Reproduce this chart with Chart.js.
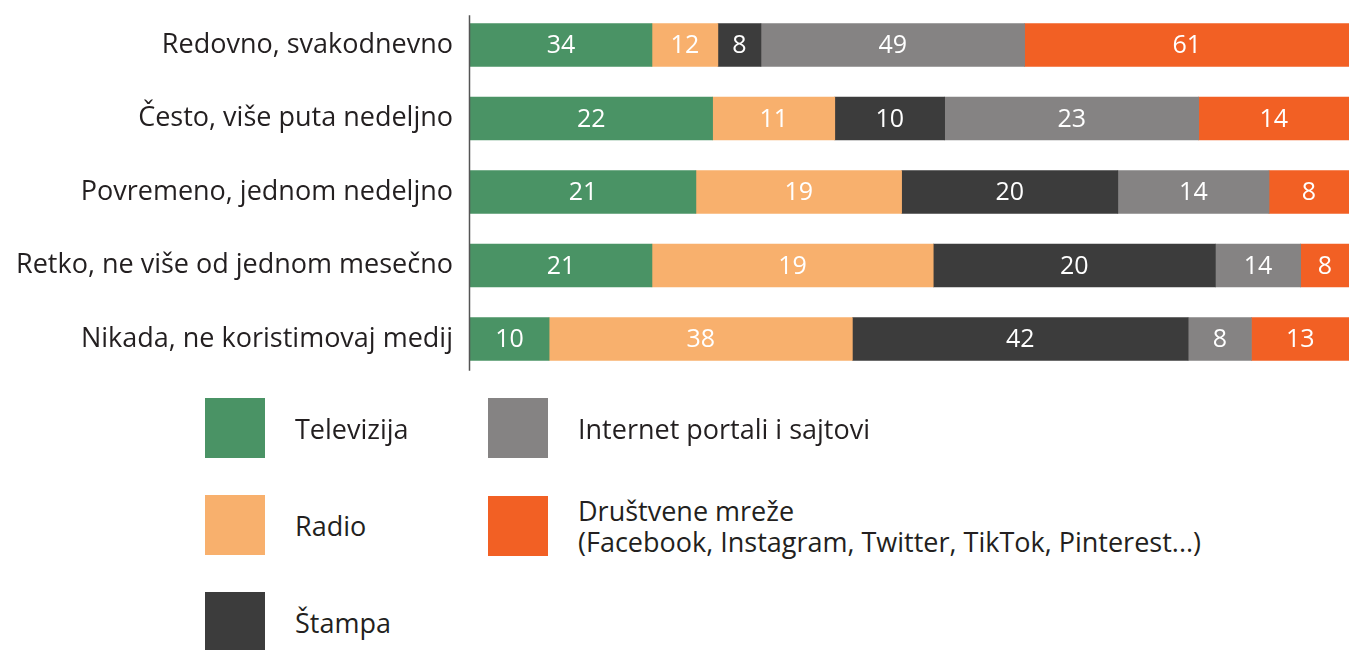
<!DOCTYPE html>
<html>
<head>
  <meta charset="UTF-8" />
  <title>Korišćenje medija</title>
  <script src="https://cdn.jsdelivr.net/npm/chart.js"></script>
  <style>
    body { margin: 0; background: #fff; font-family: "Open Sans", sans-serif; color: #231f20; overflow: hidden; }
    #wrap { position: relative; width: 1349px; height: 650px; overflow: hidden; }
    #chartBox { position: absolute; left: 0; top: -25px; width: 1349px; height: 434px; }
    .lg { position: absolute; display: flex; align-items: center; font-size: 27px; line-height: 31px; }
    .sw { width: 60px; height: 60px; margin-right: 30px; flex: none; }
  </style>
</head>
<body>
<div id="wrap">
  <div id="chartBox"><canvas id="chart"></canvas></div>
  <div id="legend"></div>
</div>
<script>
  const categories = [
    'Redovno, svakodnevno',
    'Često, više puta nedeljno',
    'Povremeno, jednom nedeljno',
    'Retko, ne više od jednom mesečno',
    'Nikada, ne koristimovaj medij'
  ];
  const seriesNames = ['Televizija', 'Radio', 'Štampa', 'Internet portali i sajtovi',
    'Društvene mreže\n(Facebook, Instagram, Twitter, TikTok, Pinterest...)'];
  const colors = ['#4a9365', '#f8b06d', '#3c3c3c', '#858383', '#f26024'];

  // bar shares in % of each row
  const televizija = [20.7, 27.6, 25.7, 20.7, 9.0];
  const radio      = [7.5, 13.9, 23.4, 32.0, 34.5];
  const stampa     = [4.9, 12.5, 24.6, 32.1, 38.2];
  const internet   = [30.0, 28.9, 17.2, 9.7, 7.2];
  const mreze      = [36.9, 17.1, 9.1, 5.5, 11.1];

  // numbers printed inside the bars
  const televizijaLbl = [34, 22, 21, 21, 10];
  const radioLbl      = [12, 11, 19, 19, 38];
  const stampaLbl     = [8, 10, 20, 20, 42];
  const internetLbl   = [49, 23, 14, 14, 8];
  const mrezeLbl      = [61, 14, 8, 8, 13];

  const values = [televizija, radio, stampa, internet, mreze];
  const labels = [televizijaLbl, radioLbl, stampaLbl, internetLbl, mrezeLbl];

  const barLabels = {
    id: 'barLabels',
    afterDatasetsDraw(chart) {
      const c = chart.ctx;
      c.save();
      c.fillStyle = '#fff';
      c.font = '25px "Open Sans", sans-serif';
      c.textAlign = 'center';
      c.textBaseline = 'middle';
      chart.data.datasets.forEach((ds, i) => {
        chart.getDatasetMeta(i).data.forEach((bar, j) => {
          const x = (bar.x + bar.base) / 2;
          c.fillText(String(labels[i][j]), x, bar.y + 1);
        });
      });
      // left axis line, a bit shorter than the category band
      const a = chart.chartArea;
      c.strokeStyle = '#555';
      c.lineWidth = 1.5;
      c.beginPath();
      c.moveTo(a.left - 0.5, a.top + 7);
      c.lineTo(a.left - 0.5, a.bottom - 5);
      c.stroke();
      c.restore();
    }
  };

  new Chart(document.getElementById('chart'), {
    type: 'bar',
    data: {
      labels: categories,
      datasets: values.map((v, i) => ({
        label: seriesNames[i],
        data: v,
        backgroundColor: colors[i],
        borderWidth: 0,
        barThickness: 43
      }))
    },
    options: {
      indexAxis: 'y',
      responsive: true,
      maintainAspectRatio: false,
      animation: false,
      layout: { padding: 0 },
      plugins: { legend: { display: false }, tooltip: { enabled: false } },
      scales: {
        x: { stacked: true, min: 0, max: 100, display: false },
        y: {
          stacked: true,
          grid: { display: false, drawTicks: false },
          border: { display: false },
          afterFit(s) { s.width = 470; },
          ticks: {
            color: '#231f20',
            padding: 17,
            font: { family: 'Open Sans', size: 27 }
          }
        }
      }
    },
    plugins: [barLabels]
  });

  // legend, two columns like the original
  const legendPos = [
    { left: 205, top: 398 }, { left: 205, top: 495 }, { left: 205, top: 592 },
    { left: 488, top: 398 }, { left: 488, top: 495 }
  ];
  const lg = document.getElementById('legend');
  seriesNames.forEach((name, i) => {
    const d = document.createElement('div');
    d.className = 'lg';
    d.style.left = legendPos[i].left + 'px';
    d.style.top = legendPos[i].top + 'px';
    const sw = document.createElement('div');
    sw.className = 'sw';
    sw.style.background = colors[i];
    const t = document.createElement('div');
    t.innerHTML = name.replace('\n', '<br>');
    d.appendChild(sw);
    d.appendChild(t);
    lg.appendChild(d);
  });
</script>
</body>
</html>
